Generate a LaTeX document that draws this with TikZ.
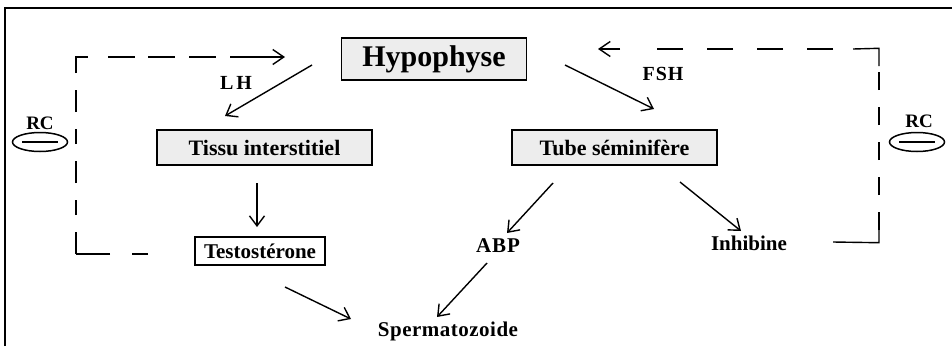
\documentclass[tikz,border=0pt]{standalone}
\usepackage{fontspec}
\setmainfont{Liberation Serif}
\usetikzlibrary{arrows.meta,shapes.geometric}
\tikzset{
  box/.style={draw=black, line width=1.4pt, inner sep=0pt, font=\bfseries},
  lab/.style={inner sep=0pt, font=\bfseries\fontsize{21}{21}\selectfont},
  arr/.style={line width=1.4pt, -{Straight Barb[length=10pt,width=15pt,line width=1.4pt]}},
  fbh/.style={line width=1.4pt, dash pattern=on 27pt off 14pt},
  fbv/.style={line width=1.4pt, dash pattern=on 18pt off 17pt},
  tipb/.style={-{Straight Barb[length=11pt,width=15pt,line width=1.4pt]}},
  rcell/.style={draw, ellipse, line width=1.5pt, minimum width=55pt, minimum height=19pt, inner sep=0pt}
}
\begin{document}
\begin{tikzpicture}[x=1pt,y=-1pt]
\useasboundingbox (0,0) rectangle (952,346);
\fill[white] (0,0) rectangle (952,346);
% outer frame (left and top)
\draw[line width=2pt] (5,346) -- (5,8) -- (952,8);

% boxes
\node[box, fill=gray!14, minimum width=185pt, minimum height=42pt, font=\bfseries\fontsize{30}{30}\selectfont] (hyp) at (434,59) {Hypophyse};
\node[box, fill=gray!14, minimum width=215pt, minimum height=35pt, font=\bfseries\fontsize{22}{22}\selectfont] (tissu) at (264.5,147.5) {Tissu interstitiel};
\node[box, fill=gray!14, minimum width=205pt, minimum height=35pt, font=\bfseries\fontsize{22}{22}\selectfont] (tube) at (614.5,147.5) {Tube séminifère};
\node[box, fill=white, minimum width=130pt, minimum height=28pt, line width=1.6pt, font=\bfseries\fontsize{21}{21}\selectfont] (testo) at (260,251) {Testostérone};

% plain labels
\node[lab] (abp) at (498,246) {A\kern1pt B\kern1pt P};
\node[lab] (inh) at (749,243) {Inhibine};
\node[lab] (sperm) at (448,331) {S\kern0.5pt p\kern0.5pt e\kern0.5pt r\kern0.5pt m\kern0.5pt a\kern0.5pt t\kern0.5pt o\kern0.5pt z\kern0.5pt o\kern0.5pt i\kern0.5pt d\kern0.5pt e};
\node[lab, font=\bfseries\fontsize{20}{20}\selectfont] (lh) at (236,83) {L\kern3pt H};
\node[lab, font=\bfseries\fontsize{20}{20}\selectfont] (fsh) at (663,74) {F\kern1pt S\kern1pt H};

% RC symbols
\node[lab, font=\bfseries\fontsize{19}{19}\selectfont] (rcl) at (40,123) {RC};
\node[rcell] (ell) at (40,142) {};
\draw[line width=1.5pt] ([xshift=-18pt]ell.center) -- ([xshift=18pt]ell.center);
\node[lab, font=\bfseries\fontsize{19}{19}\selectfont] (rcr) at (919,121) {RC};
\node[rcell] (elr) at (917,142) {};
\draw[line width=1.5pt] ([xshift=-18pt]elr.center) -- ([xshift=18pt]elr.center);

% arrow end points
\coordinate (lhs) at (312,65);   \coordinate (lhe) at (225,116);
\coordinate (fshs) at (565,65);  \coordinate (fshe) at (654,109);
\coordinate (ts) at (257,183);   \coordinate (te) at (257,227);
\coordinate (abs) at (553,183);  \coordinate (abe) at (507,233);
\coordinate (ins) at (680,182);  \coordinate (ine) at (741,231);
\coordinate (tss) at (285,287);  \coordinate (tse) at (351,319);
\coordinate (aps) at (487,263);  \coordinate (ape) at (437,317);

\draw[arr] (lhs) -- (lhe);
\draw[arr] (fshs) -- (fshe);
\draw[arr] (ts) -- (te);
\draw[arr] (abs) -- (abe);
\draw[arr] (ins) -- (ine);
\draw[arr] (tss) -- (tse);
\draw[arr] (aps) -- (ape);

% feedback loops
\coordinate (lb) at (148,254); \coordinate (lc1) at (76,254); \coordinate (lc2) at (76,57); \coordinate (la) at (285,57);
\draw[line width=1.4pt, dash pattern=on 16pt off 22pt on 40pt off 10pt] (lb) -- (lc1);
\draw[fbv, dash pattern=on 22pt off 17pt on 15pt off 17pt] (lc1) -- (lc2);
\draw[fbh, tipb, dash pattern=on 13pt off 20pt on 27pt off 13pt on 27pt off 14pt on 27pt off 14pt on 50pt off 0pt] ([xshift=-0.7pt]lc2) -- (la);
\coordinate (rb) at (833,242); \coordinate (rc1) at (879,242); \coordinate (rc2) at (879,49); \coordinate (ra) at (598,49);
\draw[line width=1.4pt] (rb) -- ([yshift=-0.7pt]rc1) -- (879,230);
\draw[fbv] (879,230) -- ([yshift=-17pt]rc2);
\draw[line width=1.4pt] ([yshift=-17pt]rc2) -- ([yshift=0.7pt]rc2) -- (853,49);
\draw[fbh, tipb, dash pattern=on 0pt off 20pt on 26pt off 24pt on 26pt off 24pt on 26pt off 24pt on 26pt off 17pt] (853,49) -- (ra);
\end{tikzpicture}
\end{document}
